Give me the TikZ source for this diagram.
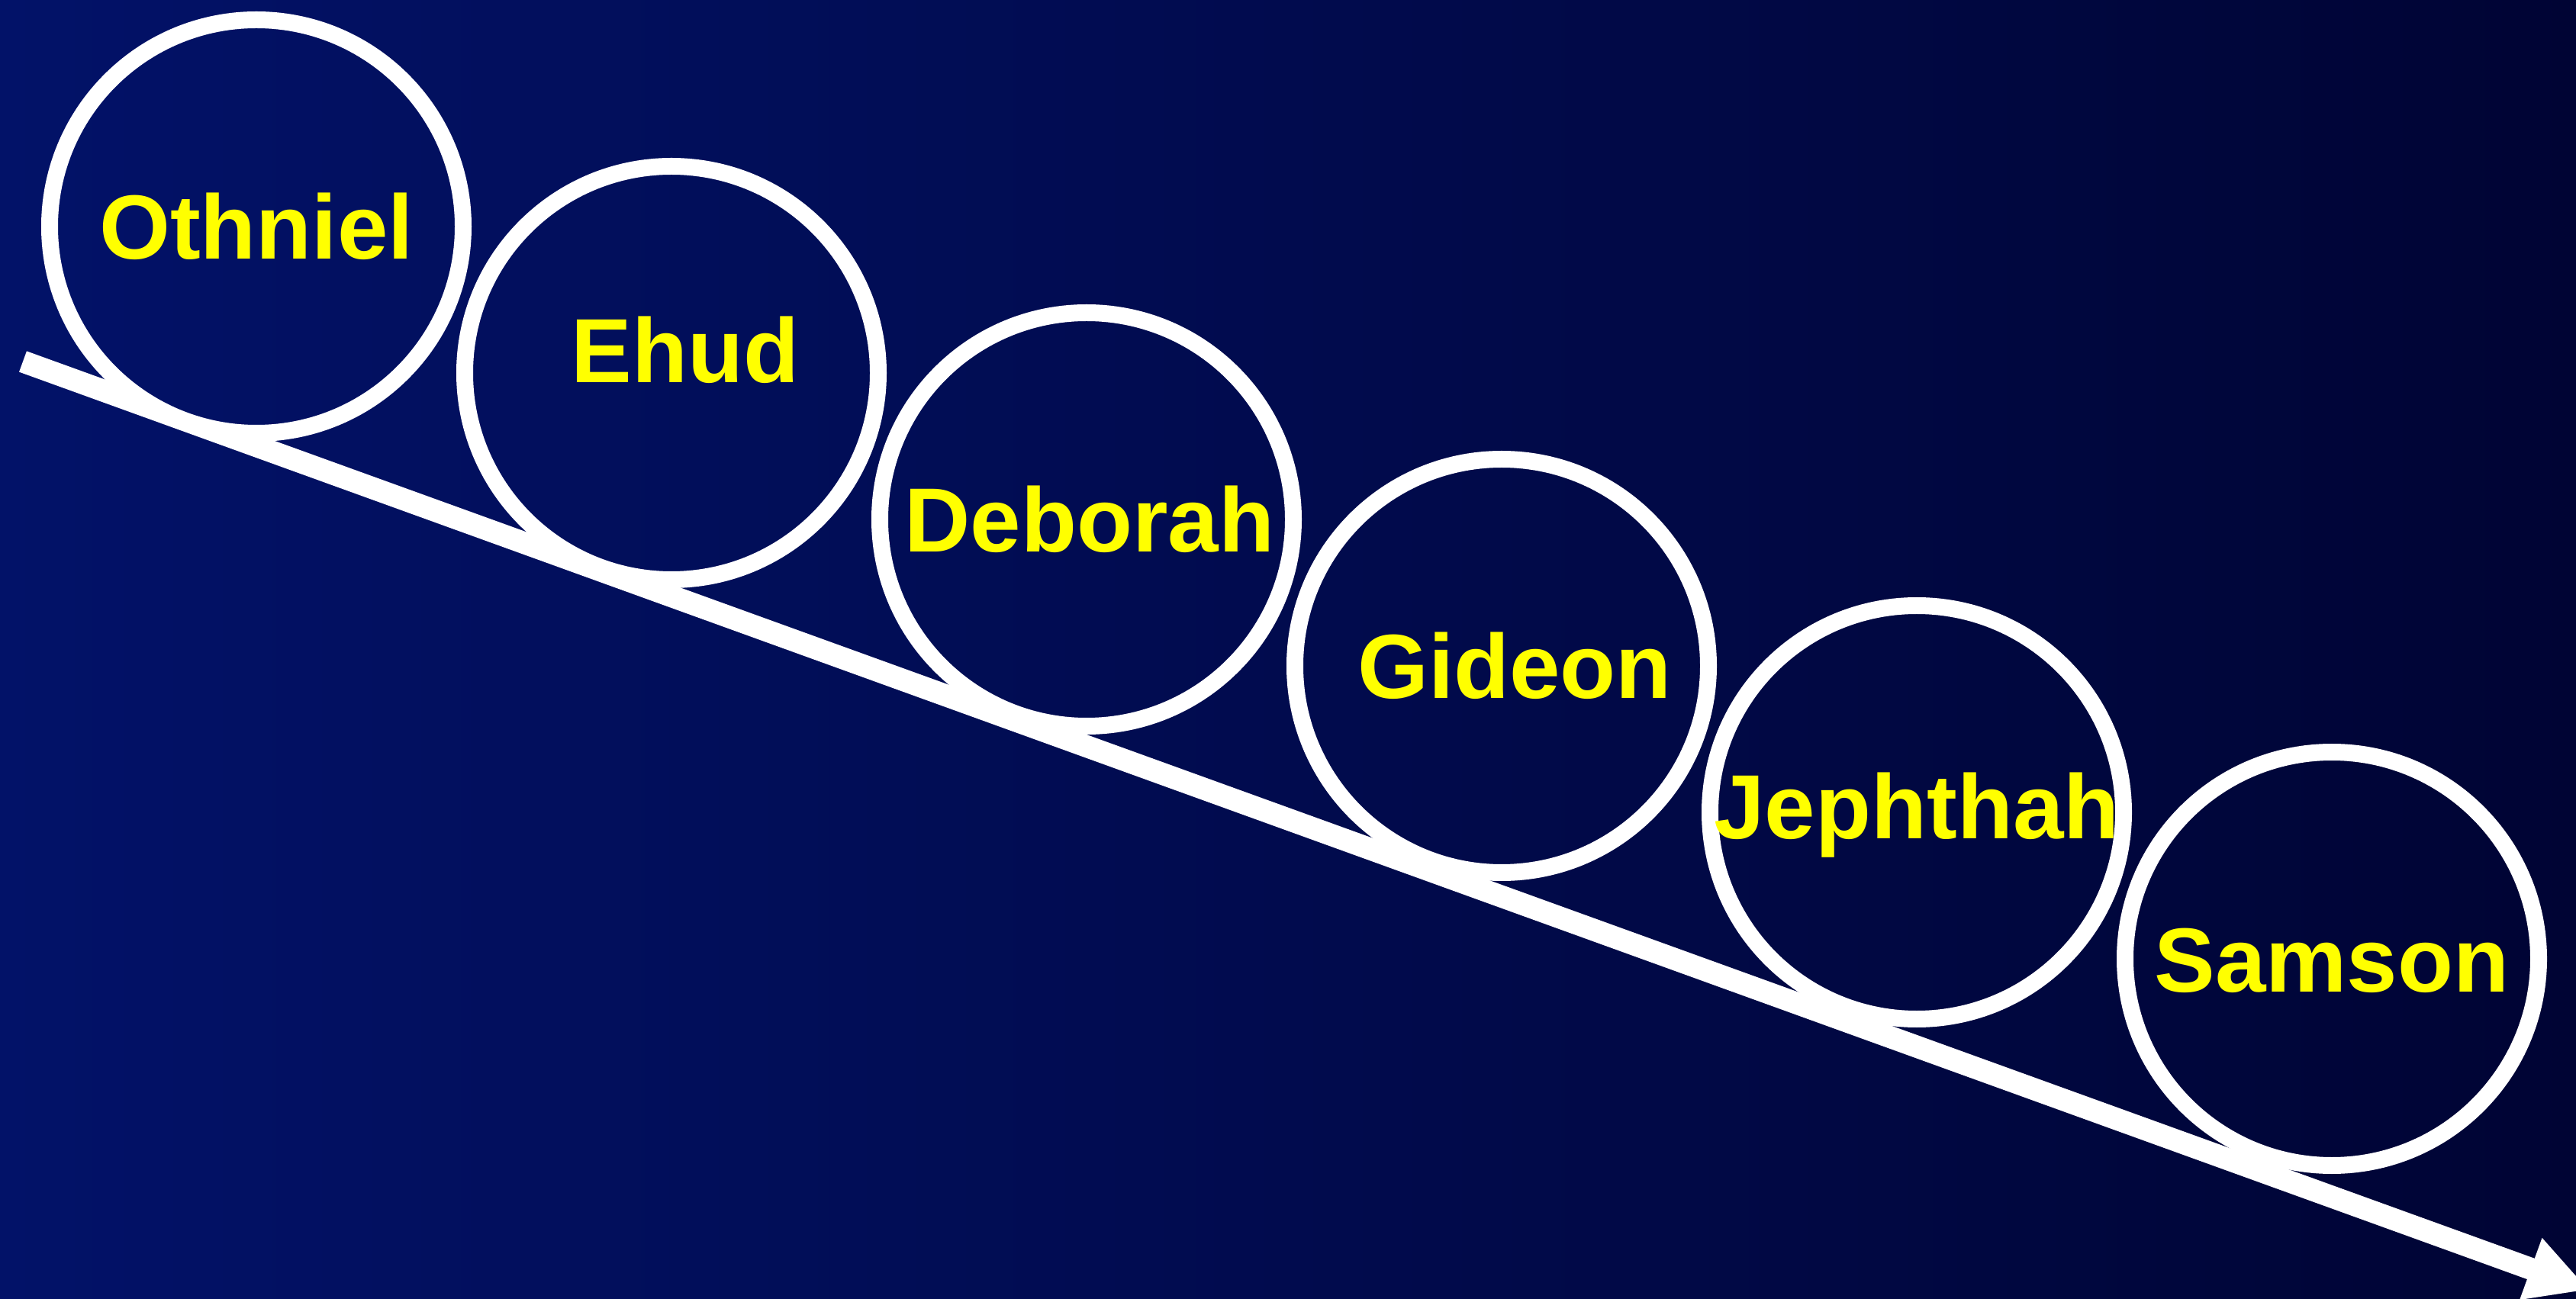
\documentclass[tikz,border=0pt]{standalone}
\usepackage{fontspec}
\setmainfont{Liberation Sans}
\usetikzlibrary{arrows.meta, positioning, calc, backgrounds}
\definecolor{slideleft}{RGB}{2, 18, 104}
\definecolor{slideright}{RGB}{0, 4, 52}
\definecolor{nameyellow}{RGB}{255, 255, 0}
\tikzset{
    slidebg/.style={left color=slideleft, right color=slideright},
    judgering/.style={circle, draw=white, line width=0.22cm, minimum size=5.42cm, inner sep=0pt,
        path picture={\shade[slidebg] (bg-sw) rectangle (bg-ne);}},
    judgename/.style={font=\fontsize{34}{40}\selectfont\bfseries, text=nameyellow, inner sep=0pt, text height=0.86cm, text depth=0pt},
    timearrow/.style={-{Triangle[length=0.81cm, width=0.80cm]}, line width=0.29cm, draw=white},
}

\begin{document}
\begin{tikzpicture}
    % Background
    \useasboundingbox (0,0) rectangle (33.76,17.02);
    \clip (0,0) rectangle (33.76,17.02);
    \coordinate (bg-sw) at (0,0);
    \coordinate (bg-ne) at (33.76,17.02);
    \shade[slidebg] (bg-sw) rectangle (bg-ne);

    % Time line
    \coordinate (start) at (0.30,12.28);
    \coordinate (end) at (33.93,0.11);
    \draw[timearrow] (start) -- (end);

    % Judges
    \node[judgering, label={[judgename]center:Othniel}] (othniel) at (3.36,14.05) {};
    \node[judgering, label={[judgename, xshift=0.18cm, yshift=0.30cm]center:Ehud}] (ehud) at (8.80,12.13) {};
    \node[judgering, label={[judgename, xshift=0.04cm]center:Deborah}] (deborah) at (14.24,10.21) {};
    \node[judgering, label={[judgename, xshift=0.17cm]center:Gideon}] (gideon) at (19.68,8.29) {};
    \node[judgering, label={[judgename, yshift=0.08cm]center:Jephthah}] (jephthah) at (25.12,6.37) {};
    \node[judgering, label={[judgename]center:Samson}] (samson) at (30.56,4.45) {};
\end{tikzpicture}
\end{document}
